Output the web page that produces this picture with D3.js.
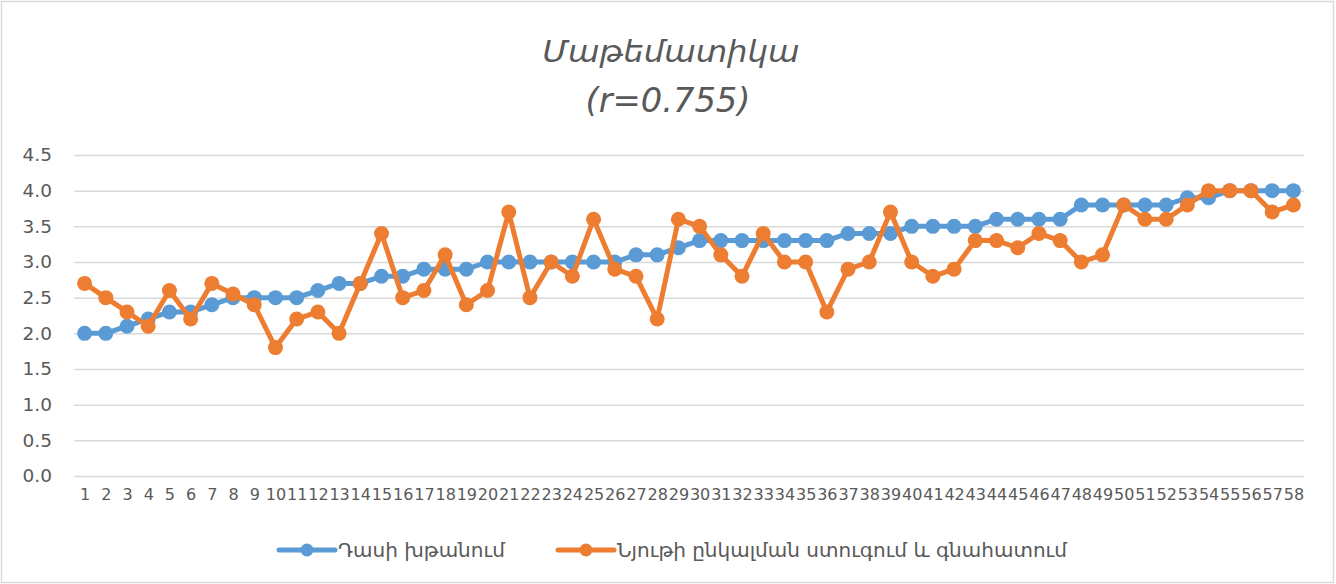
<!DOCTYPE html>
<html>
<head>
<meta charset="utf-8">
<script src="https://cdn.jsdelivr.net/npm/d3@7/dist/d3.min.js"></script>
<style>
  body { margin: 0; background: #fff; }
  svg { display: block; }
</style>
</head>
<body>
<div id="chart"></div>
<script>
// Armenian math chart: class stimulation vs. material perception
const categories = [
  '1', '2', '3', '4', '5', '6', '7', '8', '9', '10',
  '11', '12', '13', '14', '15', '16', '17', '18', '19', '20',
  '21', '22', '23', '24', '25', '26', '27', '28', '29', '30',
  '31', '32', '33', '34', '35', '36', '37', '38', '39', '40',
  '41', '42', '43', '44', '45', '46', '47', '48', '49', '50',
  '51', '52', '53', '54', '55', '56', '57', '58'
];

const classValues = [
  2.0, 2.0, 2.1, 2.2, 2.3, 2.3, 2.4, 2.5, 2.5, 2.5,
  2.5, 2.6, 2.7, 2.7, 2.8, 2.8, 2.9, 2.9, 2.9, 3.0,
  3.0, 3.0, 3.0, 3.0, 3.0, 3.0, 3.1, 3.1, 3.2, 3.3,
  3.3, 3.3, 3.3, 3.3, 3.3, 3.3, 3.4, 3.4, 3.4, 3.5,
  3.5, 3.5, 3.5, 3.6, 3.6, 3.6, 3.6, 3.8, 3.8, 3.8,
  3.8, 3.8, 3.9, 3.9, 4.0, 4.0, 4.0, 4.0
];

const materialValues = [
  2.7, 2.5, 2.3, 2.1, 2.6, 2.2, 2.7, 2.55, 2.4, 1.8,
  2.2, 2.3, 2.0, 2.7, 3.4, 2.5, 2.6, 3.1, 2.4, 2.6,
  3.7, 2.5, 3.0, 2.8, 3.6, 2.9, 2.8, 2.2, 3.6, 3.5,
  3.1, 2.8, 3.4, 3.0, 3.0, 2.3, 2.9, 3.0, 3.7, 3.0,
  2.8, 2.9, 3.3, 3.3, 3.2, 3.4, 3.3, 3.0, 3.1, 3.8,
  3.6, 3.6, 3.8, 4.0, 4.0, 4.0, 3.7, 3.8
];

const seriesNames = ['Դասի խթանում', 'Նյութի ընկալման ստուգում և գնահատում'];
const yTicks = [0, 0.5, 1.0, 1.5, 2.0, 2.5, 3.0, 3.5, 4.0, 4.5];
const titleLines = ['Մաթեմատիկա', '(r=0.755)'];

const width = 1336;
const height = 584;
const textColor = '#595959';
const gridColor = '#d9d9d9';
const colors = ['#5b9bd5', '#ed7d31'];
const font = '"DejaVu Sans", "Noto Sans", sans-serif';
const titleFont = '"DejaVu Sans Condensed", "DejaVu Sans", sans-serif';

const svg = d3.select('#chart')
  .append('svg')
  .attr('width', width)
  .attr('height', height);

svg.append('rect')
  .attr('x', 1.5).attr('y', 1.5)
  .attr('width', width - 4).attr('height', height - 3)
  .attr('fill', '#fff')
  .attr('stroke', gridColor)
  .attr('stroke-width', 1.5);

const x = d3.scalePoint().domain(categories).range([74, 1304]).padding(0.5);
const y = d3.scaleLinear().domain([0, 4.5]).range([476, 155]);

// title, two lines; widths stretched to the narrow tall look of the original
const titleSpec = [
  { cx: 671, y: 62, size: 30, len: 257 },
  { cx: 668, y: 112, size: 33, len: 165 },
];
titleSpec.forEach((t, i) => {
  svg.append('text')
    .attr('x', t.cx - t.len / 2).attr('y', t.y)
    .attr('font-family', titleFont)
    .attr('font-style', 'italic')
    .attr('font-size', t.size)
    .attr('fill', textColor)
    .attr('textLength', t.len)
    .attr('lengthAdjust', 'spacingAndGlyphs')
    .text(titleLines[i]);
});

// y axis: gridlines + labels
const yAxis = d3.axisLeft(y)
  .tickValues(yTicks)
  .tickSize(-(1304 - 74))
  .tickPadding(22)
  .tickFormat(d3.format('.1f'));

const yG = svg.append('g')
  .attr('transform', 'translate(74,0)')
  .call(yAxis);
yG.select('.domain').remove();
yG.selectAll('.tick line')
  .attr('stroke', gridColor)
  .attr('stroke-width', 1.5);
yG.selectAll('.tick text')
  .attr('font-family', font)
  .attr('font-size', 18.5)
  .attr('fill', textColor);

// x axis labels
const xAxis = d3.axisBottom(x).tickSize(0).tickPadding(13);
const xG = svg.append('g')
  .attr('transform', 'translate(0,476)')
  .call(xAxis);
xG.select('.domain').remove();
xG.selectAll('.tick text')
  .attr('font-family', font)
  .attr('font-size', 16)
  .attr('fill', textColor);

// series
const line = d3.line()
  .x((d, i) => x(categories[i]))
  .y((d) => y(d));

[classValues, materialValues].forEach((values, s) => {
  const g = svg.append('g');
  g.append('path')
    .datum(values)
    .attr('d', line)
    .attr('fill', 'none')
    .attr('stroke', colors[s])
    .attr('stroke-width', 5)
    .attr('stroke-linejoin', 'round')
    .attr('stroke-linecap', 'round');
  g.selectAll('circle')
    .data(values)
    .join('circle')
    .attr('cx', (d, i) => x(categories[i]))
    .attr('cy', (d) => y(d))
    .attr('r', 7.5)
    .attr('fill', colors[s]);
});

// legend
const legendItems = [
  { x0: 279, x1: 335, tx: 338 },
  { x0: 558, x1: 614, tx: 617 },
];
legendItems.forEach((item, s) => {
  const g = svg.append('g');
  g.append('line')
    .attr('x1', item.x0).attr('x2', item.x1)
    .attr('y1', 550).attr('y2', 550)
    .attr('stroke', colors[s])
    .attr('stroke-width', 5)
    .attr('stroke-linecap', 'round');
  g.append('circle')
    .attr('cx', (item.x0 + item.x1) / 2)
    .attr('cy', 550)
    .attr('r', 6.5)
    .attr('fill', colors[s]);
  g.append('text')
    .attr('x', item.tx).attr('y', 557)
    .attr('font-family', font)
    .attr('font-size', 20)
    .attr('fill', textColor)
    .text(seriesNames[s]);
});
</script>
</body>
</html>
